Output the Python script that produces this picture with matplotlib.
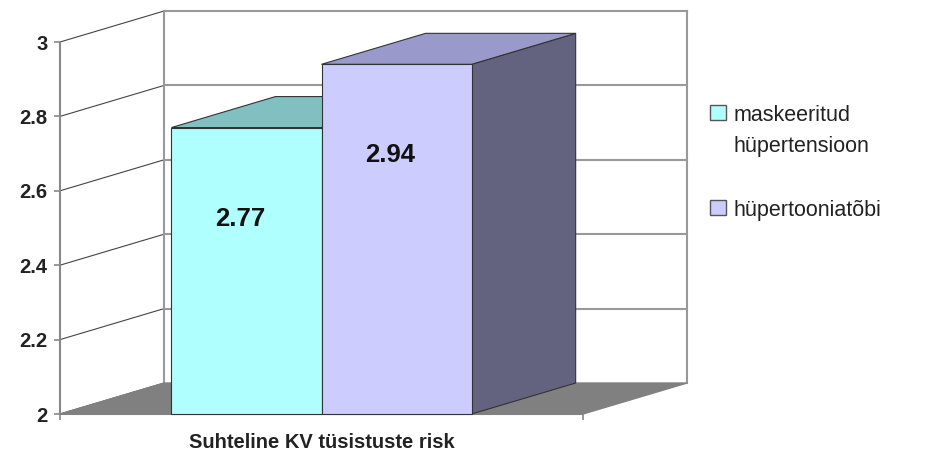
import numpy as np
import matplotlib

matplotlib.use("Agg")
import matplotlib.pyplot as plt
from matplotlib.patches import Rectangle

plt.rcParams["font.family"] = ["Liberation Sans", "DejaVu Sans"]

# data
series = ["maskeeritud\nhüpertensioon", "hüpertooniatõbi"]
values = [2.77, 2.94]
category = "Suhteline KV tüsistuste risk"
yticks = [2.0, 2.2, 2.4, 2.6, 2.8, 3.0]

front_colors = ["#B0FFFF", "#CCCCFF"]
top_colors = ["#80C0C0", "#9999CC"]
side_colors = ["#6F9F9F", "#636380"]

# fake 3d depth (x in category units, y in value units)
dx, dy = 0.199, 0.0833
bar_w = 0.287
ymin, ymax = 2.0, 3.0

W, H = 929, 451
fig = plt.figure(figsize=(W / 100, H / 100), dpi=100)
ax = fig.add_axes([60 / W, 37 / H, 523 / W, 372 / H])
ax.set_xlim(0, 1)
ax.set_ylim(ymin, ymax)

# floor
ax.fill([0, 1, 1 + dx, dx], [ymin, ymin, ymin + dy, ymin + dy],
        color="#808080", zorder=1, clip_on=False)

# walls: side wall diagonals and back wall gridlines
for v in yticks:
    ax.plot([0, dx], [v, v + dy], color="#444444", lw=0.8, zorder=0, clip_on=False)
    if v > ymin:
        ax.plot([dx, 1 + dx], [v + dy, v + dy], color="#999999", lw=1.5,
                zorder=0, clip_on=False)
for xe in (dx, 1 + dx):
    ax.plot([xe, xe], [ymin + dy, ymax + dy], color="#999999", lw=1.5,
            zorder=0, clip_on=False)

# bars
lefts = [0.5 - bar_w, 0.5]
for i, (x0, v) in enumerate(zip(lefts, values)):
    z = 2 + i
    x1 = x0 + bar_w
    ax.fill([x1, x1 + dx, x1 + dx, x1], [ymin, ymin + dy, v + dy, v],
            facecolor=side_colors[i], edgecolor="#333333", lw=0.8, zorder=z, clip_on=False)
    ax.fill([x0, x1, x1 + dx, x0 + dx], [v, v, v + dy, v + dy],
            facecolor=top_colors[i], edgecolor="#333333", lw=0.8, zorder=z, clip_on=False)
    ax.bar(x0, v - ymin, bottom=ymin, width=bar_w, align="edge",
           color=front_colors[i], edgecolor="#333333", lw=0.8, zorder=z,
           clip_on=False)
    ax.text(x0 + bar_w / 2 - 0.012, v - 0.245, f"{v:.2f}", ha="center", va="center",
            fontsize=18.5, fontweight="bold", color="#111111", zorder=10)

# axes
for s in ("top", "right"):
    ax.spines[s].set_visible(False)
for s in ("left", "bottom"):
    ax.spines[s].set_color("#888888")
    ax.spines[s].set_linewidth(1.5)
    ax.spines[s].set_zorder(0.5)
ax.set_yticks(yticks)
ax.set_yticklabels([f"{t:g}" for t in yticks])
ax.tick_params(axis="y", length=4, width=1.2, color="#888888", pad=5,
               labelsize=14.5, labelcolor="#222222")
for lab in ax.get_yticklabels():
    lab.set_fontweight("bold")
ax.set_xticks([0.5])
ax.set_xticklabels([category], fontsize=14.5, fontweight="bold", color="#222222")
ax.tick_params(axis="x", which="major", length=0, pad=14)
ax.set_xticks([0, 1], minor=True)
ax.tick_params(axis="x", which="minor", length=4, width=1.2, color="#888888")

# legend, drawn by hand to keep the Excel layout
leg_base = [121, 216]
line_step = 31
for i, name in enumerate(series):
    yb = leg_base[i]
    fig.patches.append(Rectangle((710 / W, 1 - (yb - 1) / H), 16 / W, 15 / H,
                                 transform=fig.transFigure, facecolor=front_colors[i],
                                 edgecolor="#555555", lw=1.0))
    for k, line in enumerate(name.split("\n")):
        fig.text(734 / W, 1 - (yb + k * line_step) / H, line, ha="left",
                 va="baseline", fontsize=15.5, color="#222222")

fig.savefig("out.png", dpi=100)
